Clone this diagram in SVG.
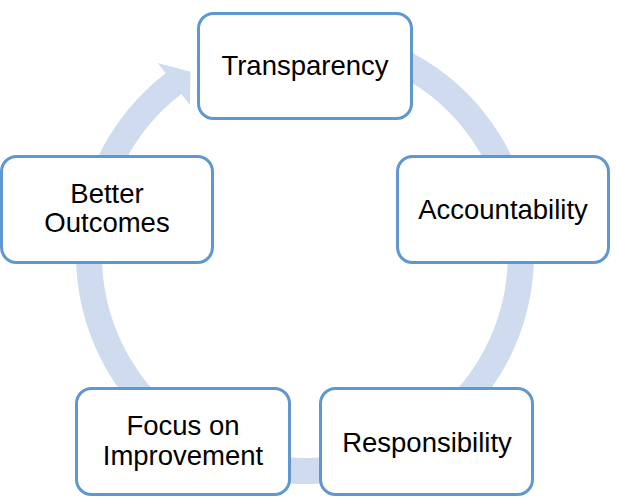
<svg xmlns="http://www.w3.org/2000/svg" width="617" height="497" viewBox="0 0 617 497">
<style>
.box{fill:#ffffff;stroke:#5f97d0;stroke-width:3}
.lbl{font-family:"Liberation Sans",Arial,sans-serif;font-size:27.5px;fill:#000000;text-anchor:middle}
.ring{fill:#cfdbee;stroke:none}
</style>
<g id="connectors">
<path class="ring" d="M 265.2 29.5 A 229 229 0 1 1 165.6 73.3 L 157.7 63.0 L 190.5 71.8 L 189.9 105.0 L 181.4 93.9 A 203 203 0 1 0 269.8 55.1 Z"/>
</g>
<g id="node-transparency">
<rect class="box" x="198.5" y="13.5" width="213" height="105" rx="15" ry="15"/>
<text class="lbl" x="305" y="75">Transparency</text>
</g>
<g id="node-accountability">
<rect class="box" x="397.5" y="156.5" width="211" height="106" rx="15" ry="15"/>
<text class="lbl" x="503" y="219">Accountability</text>
</g>
<g id="node-responsibility">
<rect class="box" x="320.5" y="388.5" width="212" height="106" rx="15" ry="15"/>
<text class="lbl" x="427" y="451.5">Responsibility</text>
</g>
<g id="node-focus">
<rect class="box" x="76.5" y="388.5" width="213" height="106" rx="15" ry="15"/>
<text class="lbl" x="183" y="435">Focus on</text>
<text class="lbl" x="183" y="465">Improvement</text>
</g>
<g id="node-better">
<rect class="box" x="1.5" y="156.5" width="211" height="106" rx="15" ry="15"/>
<text class="lbl" x="107" y="203">Better</text>
<text class="lbl" x="107" y="232">Outcomes</text>
</g>
</svg>
